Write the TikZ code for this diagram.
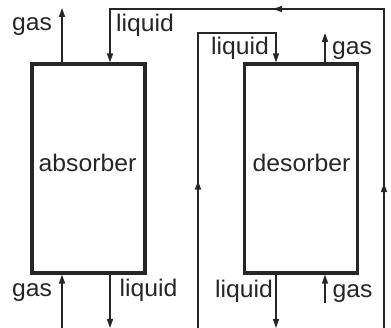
\documentclass[tikz,border=0pt]{standalone}
\usepackage{fontspec}
\setmainfont{Liberation Sans}[FakeStretch=1.03]
\usetikzlibrary{arrows.meta,decorations.markings}
\begin{document}
\begin{tikzpicture}[x=1pt,y=-1pt,
  vessel/.style={draw=black!85,line width=3.2pt,minimum width=113pt,minimum height=209pt,inner sep=0pt},
  flow/.style={draw=black!85,line width=1.5pt,-{Triangle[length=9pt,width=6pt]}},
  lbl/.style={font=\fontsize{24}{28}\selectfont,text=black!85,inner sep=0pt,anchor=base},
  midmark/.style={postaction={decorate},decoration={markings,mark=at position #1 with {\arrow{Triangle[length=9pt,width=6pt]}}}},
  midtwo/.style 2 args={postaction={decorate},decoration={markings,
     mark=at position #1 with {\arrow{Triangle[length=9pt,width=6pt]}},
     mark=at position #2 with {\arrow{Triangle[length=9pt,width=6pt]}}}}
]
\fill[white] (0,0) rectangle (391,328);
\useasboundingbox (0,0) rectangle (391,328);
% vessels
\node[vessel] (ab) at (88.5,168.5) {};
\node[vessel] (de) at (301,168.5) {};
% free ends
\coordinate (agasT) at (62,8);
\coordinate (agasB) at (62,328);
\coordinate (aliqB) at (110,328);
\coordinate (loopR) at (384,328);
\coordinate (loopTR) at (384,9);
\coordinate (loopTL) at (110,9);
\coordinate (dliqL) at (198,328);
\coordinate (dliqTL) at (198,33);
\coordinate (dliqTR) at (276,33);
\coordinate (dgasT) at (325,33);
\coordinate (dgasB) at (325,303);
\coordinate (dliqB) at (276,328);
% absorber streams
\draw[flow] (ab.north -| agasT) -- (agasT);
\draw[flow] (agasB) -- (ab.south -| agasB);
\draw[flow] (ab.south -| aliqB) -- (aliqB);
\draw[flow,midtwo={0.224}{0.665}] (loopR) -- (loopTR) -- (loopTL) -- (ab.north -| loopTL);
% desorber streams
\draw[flow,midmark=0.366] (dliqL) -- (dliqTL) -- (dliqTR) -- (de.north -| dliqTR);
\draw[flow] (de.north -| dgasT) -- (dgasT);
\draw[flow] (dgasB) -- (de.south -| dgasB);
\draw[flow] (de.south -| dliqB) -- (dliqB);
% labels
\node[lbl] (abtxt) at (87.5,172) {absorber};
\node[lbl] (detxt) at (301.5,172) {desorber};
\node[lbl] (tgas) at (32,31) {gas};
\node[lbl] (tliq) at (145,32) {liquid};
\node[lbl] (dtliq) at (240,55) {liquid};
\node[lbl] (dtgas) at (352,55) {gas};
\node[lbl] (bgas) at (32,297) {gas};
\node[lbl] (bliq) at (148.5,297) {liquid};
\node[lbl] (dbliq) at (244,298) {liquid};
\node[lbl] (dbgas) at (352.5,298) {gas};
\end{tikzpicture}
\end{document}
